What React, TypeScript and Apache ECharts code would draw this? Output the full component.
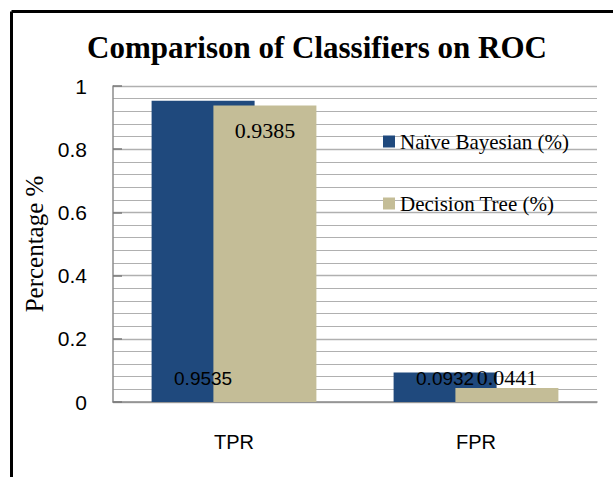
import React, { useEffect, useRef } from "react";
import * as echarts from "echarts";

const categories = ["TPR", "FPR"];
const naiveBayesian = [0.9535, 0.0932];
const decisionTree = [0.9385, 0.0441];
const seriesNames = ["Naïve Bayesian (%)", "Decision Tree (%)"];
const titleText = "Comparison of Classifiers on ROC";
const yAxisName = "Percentage %";

export default function App() {
  const ref = useRef<HTMLDivElement>(null);
  useEffect(() => {
    if (!ref.current) return;
    const chart = echarts.init(ref.current, null, { renderer: "svg" });
    const treeLabelPos = [
      { position: "insideTop", distance: 14 },
      { position: "top", distance: 0 },
    ];
    chart.setOption({
      animation: false,
      backgroundColor: "#ffffff",
      title: {
        text: titleText,
        left: 312,
        textAlign: "center",
        top: 27,
        textStyle: {
          fontFamily: "Liberation Serif",
          fontWeight: "bold",
          fontSize: 31,
          color: "#000",
        },
      },
      legend: {
        orient: "vertical",
        left: 378,
        top: 126,
        itemWidth: 12,
        itemHeight: 12,
        itemGap: 41,
        icon: "rect",
        textStyle: {
          fontFamily: "Liberation Serif",
          fontSize: 21,
          color: "#000",
        },
        data: seriesNames,
      },
      grid: { left: 113, right: 16, top: 86, bottom: 75, containLabel: false },
      xAxis: {
        type: "category",
        data: categories,
        axisLine: { show: true, lineStyle: { color: "#8c8c8c", width: 1.5 } },
        axisTick: { show: false },
        axisLabel: {
          margin: 30,
          fontFamily: "Liberation Sans",
          fontSize: 20,
          color: "#000",
        },
        splitLine: { show: false },
      },
      yAxis: {
        type: "value",
        min: 0,
        max: 1,
        interval: 0.2,
        name: yAxisName,
        nameLocation: "middle",
        nameGap: 66,
        nameTextStyle: {
          fontFamily: "Liberation Serif",
          fontSize: 25,
          color: "#000",
        },
        axisLine: { show: true, lineStyle: { color: "#8c8c8c", width: 1.5 } },
        axisTick: {
          show: true,
          inside: true,
          length: 9,
          lineStyle: { color: "#7a7a7a", width: 1.5 },
        },
        axisLabel: {
          margin: 26,
          fontFamily: "Liberation Sans",
          fontSize: 21,
          color: "#000",
        },
        splitLine: { show: true, lineStyle: { color: "#b0b0b0", width: 1.4 } },
        minorTick: { show: false, splitNumber: 5 },
        minorSplitLine: { show: true, lineStyle: { color: "#b0b0b0", width: 1.2 } },
      },
      series: [
        {
          name: seriesNames[0],
          type: "bar",
          data: naiveBayesian,
          barWidth: 103,
          barGap: "-40%",
          itemStyle: { color: "#1f497d" },
          label: {
            show: true,
            position: "insideBottom",
            distance: 14,
            fontFamily: "Liberation Sans",
            fontSize: 19,
            color: "#000",
            formatter: (p: any) => String(p.value),
          },
        },
        {
          name: seriesNames[1],
          type: "bar",
          data: decisionTree.map((v, i) => ({
            value: v,
            label: treeLabelPos[i],
          })),
          barWidth: 103,
          barGap: "-40%",
          itemStyle: { color: "#c4bd97" },
          label: {
            show: true,
            fontFamily: "Liberation Serif",
            fontSize: 22,
            color: "#000",
            formatter: (p: any) => String(p.value),
          },
        },
      ],
      graphic: [
        {
          type: "line",
          shape: { x1: 11.5, y1: 11.5, x2: 613, y2: 11.5 },
          style: { stroke: "#000", lineWidth: 3 },
          z: 100,
        },
        {
          type: "line",
          shape: { x1: 11.5, y1: 11.5, x2: 11.5, y2: 477 },
          style: { stroke: "#000", lineWidth: 3 },
          z: 100,
        },
      ],
    });
    return () => chart.dispose();
  }, []);
  return (
    <div
      ref={ref}
      style={{ position: "absolute", left: 0, top: 0, width: 613, height: 477 }}
    />
  );
}
